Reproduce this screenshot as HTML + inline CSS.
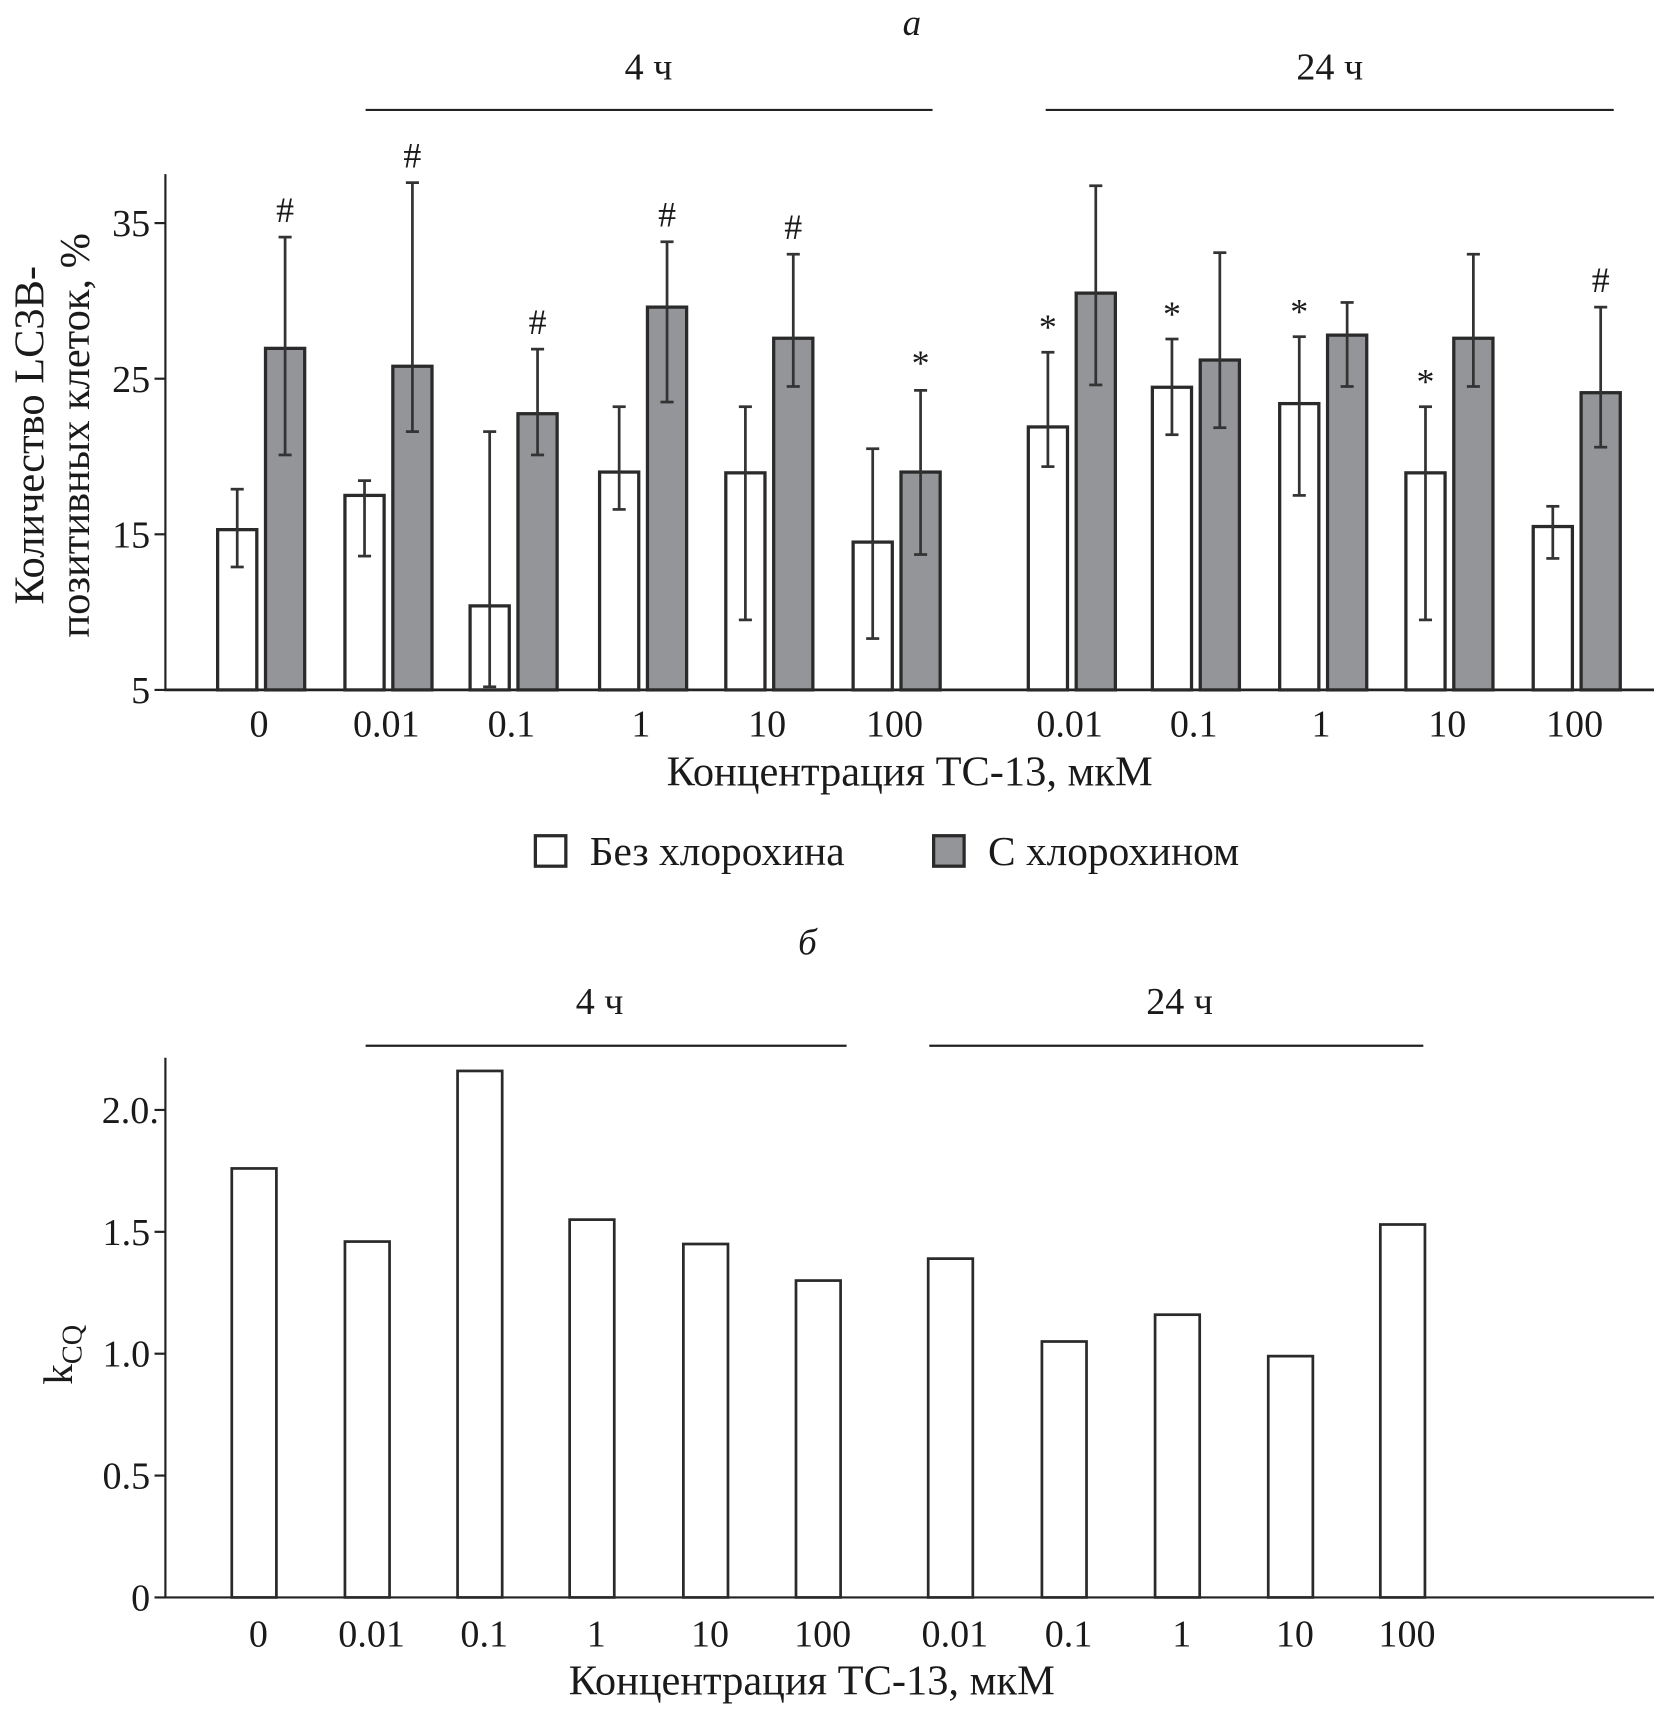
<!DOCTYPE html>
<html><head><meta charset="utf-8"><style>
html,body{margin:0;padding:0;background:#fff}
svg{display:block}
text{font-family:"Liberation Serif","DejaVu Serif",serif;fill:#1a1a1a}
</style></head><body>
<svg id="fig" width="1654" height="1709" viewBox="0 0 1520 1570.5" xmlns="http://www.w3.org/2000/svg"></svg>
<script>
// ---- Panel a data ----
const catsA = ["0","0.01","0.1","1","10","100","0.01","0.1","1","10","100"];
const whiteVals = [15.3,17.5,10.4,19.0,18.95,14.5,21.9,24.45,23.4,18.95,15.5];
const whiteHi = [17.9,18.45,21.6,23.2,23.2,20.5,26.7,27.55,27.7,23.2,16.8];
const whiteLo = [12.9,13.6,5.2,16.6,9.5,8.3,19.35,21.4,17.5,9.5,13.45];
const greyVals = [26.95,25.8,22.75,29.6,27.6,19.0,30.5,26.2,27.8,27.6,24.1];
const greyHi = [34.1,37.6,26.9,33.8,33.0,24.25,37.4,33.1,29.9,33.0,29.6];
const greyLo = [20.1,21.6,20.1,23.5,24.5,13.7,24.6,21.85,24.5,24.5,20.6];
const marksWhite = ["","","","","","","*","*","*","*",""];
const marksGrey = ["#","#","#","#","#","*","","","","","#"];
const ticksA = [5,15,25,35];
// ---- Panel b data ----
const catsB = ["0","0.01","0.1","1","10","100","0.01","0.1","1","10","100"];
const kcq = [1.76,1.46,2.16,1.55,1.45,1.30,1.39,1.05,1.16,0.99,1.53];
const ticksB = [0,0.5,1.0,1.5,2.0];
const ticksBLabels = ["0","0.5","1.0","1.5","2.0."];

const NS="http://www.w3.org/2000/svg";
const svg=document.getElementById('fig');
function mk(tag,attrs,parent){const e=document.createElementNS(NS,tag);for(const k in attrs)e.setAttribute(k,attrs[k]);(parent||svg).appendChild(e);return e;}
function txt(s,x,y,size,anchor,parent,extra){const t=mk('text',Object.assign({x:x,y:y,'font-size':size,'text-anchor':anchor||'middle'},extra||{}),parent);t.textContent=s;return t;}

// ===== Panel a =====
const gA=mk('g',{});


const yA=v=>634-(v-5)*14.3;
const posA=[240,357,472,591,707,824,985,1099,1216,1332,1449];
const xA=i=>posA[i];
let t=txt('а',838,32,34,'middle',gA,{'font-style':'italic'});

t=txt('4 ч',596,73,35,'middle',gA);

let l=mk('line',{x1:336,x2:857,y1:101,y2:101,stroke:'#222','stroke-width':2},gA);

t=txt('24 ч',1222,73,35,'middle',gA);

l=mk('line',{x1:961,x2:1483,y1:101,y2:101,stroke:'#222','stroke-width':2},gA);

l=mk('line',{x1:152,x2:152,y1:160,y2:635,stroke:'#222','stroke-width':2},gA);

l=mk('line',{x1:151,x2:1520,y1:634,y2:634,stroke:'#222','stroke-width':2.5},gA);

ticksA.forEach(v=>{
  const tk=mk('line',{x1:142,x2:152,y1:yA(v),y2:yA(v),stroke:'#222','stroke-width':2},gA);
  
  const tl=txt(String(v),138,yA(v)+12,35,'end',gA);
  
});
const ya=mk('text',{'font-size':39,'text-anchor':'middle',transform:'translate(40,400) rotate(-90)'},gA);

ya.textContent='Количество LC3B-';
const ya2=mk('text',{'font-size':39,'text-anchor':'middle',transform:'translate(82,400) rotate(-90)'},gA);

ya2.textContent='позитивных клеток, %';
function errbar(x,hi,lo,name){
  const g=mk('g',{stroke:'#333','stroke-width':2.5},gA);
  
  mk('line',{x1:x,x2:x,y1:yA(hi),y2:yA(lo)},g);
  mk('line',{x1:x-6,x2:x+6,y1:yA(hi),y2:yA(hi)},g);
  mk('line',{x1:x-6,x2:x+6,y1:yA(lo),y2:yA(lo)},g);
}
catsA.forEach((c,i)=>{
  const cx=xA(i);
  const wb=mk('rect',{x:cx-40,y:yA(whiteVals[i]),width:36,height:634-yA(whiteVals[i]),fill:'#fff',stroke:'#2a2a2a','stroke-width':3},gA);
  
  const gb=mk('rect',{x:cx+4,y:yA(greyVals[i]),width:36,height:634-yA(greyVals[i]),fill:'#939598',stroke:'#2a2a2a','stroke-width':3},gA);
  
  errbar(cx-22,whiteHi[i],whiteLo[i],'error-bar-without-chloroquine');
  errbar(cx+22,greyHi[i],greyLo[i],'error-bar-with-chloroquine');
  if(marksWhite[i]){const m=txt(marksWhite[i],cx-22,yA(whiteHi[i])-12,33,'middle',gA);
    }
  if(marksGrey[i]){const m=txt(marksGrey[i],cx+22,yA(greyHi[i])-14,33,'middle',gA);
    }
  const xl=txt(c,cx-2,677,35,'middle',gA);
  
});
t=txt('Концентрация ТС-13, мкМ',836,722,39,'middle',gA);

const lg=mk('g',{},gA);

let r=mk('rect',{x:492,y:768,width:28,height:28,fill:'#fff',stroke:'#2a2a2a','stroke-width':3},lg);

t=txt('Без хлорохина',542,795,38,'start',lg);

r=mk('rect',{x:858,y:768,width:28,height:28,fill:'#939598',stroke:'#2a2a2a','stroke-width':3},lg);

t=txt('С хлорохином',908,795,38,'start',lg);


// ===== Panel b =====
const gB=mk('g',{});


const yB=v=>1468-v*224;
const posB=[233.5,337.5,441,544,648.5,752,873.5,978,1082,1186,1289];
t=txt('б',742,877,34,'middle',gB,{'font-style':'italic'});

t=txt('4 ч',551,932,35,'middle',gB);

l=mk('line',{x1:336,x2:778,y1:961,y2:961,stroke:'#222','stroke-width':2},gB);

t=txt('24 ч',1084,932,35,'middle',gB);

l=mk('line',{x1:854,x2:1308,y1:961,y2:961,stroke:'#222','stroke-width':2},gB);

l=mk('line',{x1:152,x2:152,y1:972,y2:1469,stroke:'#222','stroke-width':2},gB);

l=mk('line',{x1:151,x2:1520,y1:1468,y2:1468,stroke:'#222','stroke-width':2},gB);

ticksB.forEach((v,i)=>{
  const tk=mk('line',{x1:142,x2:152,y1:yB(v),y2:yB(v),stroke:'#222','stroke-width':2},gB);
  
  const tl=txt(ticksBLabels[i],i===4?146:138,yB(v)+12,35,'end',gB);
  
});
const yb=mk('text',{'font-size':38,'text-anchor':'middle',transform:'translate(66,1245) rotate(-90)'},gB);

yb.textContent='k';
const sub=mk('tspan',{'font-size':26,dy:9},yb);sub.textContent='CQ';
catsB.forEach((c,i)=>{
  const cx=posB[i];
  const b=mk('rect',{x:cx-20.5,y:yB(kcq[i]),width:41,height:1468-yB(kcq[i]),fill:'#fff',stroke:'#2a2a2a','stroke-width':2.5},gB);
  
  const xl=txt(c,cx+4,1513,35,'middle',gB);
  
});
t=txt('Концентрация ТС-13, мкМ',746,1557,39,'middle',gB);

</script>
</body></html>
